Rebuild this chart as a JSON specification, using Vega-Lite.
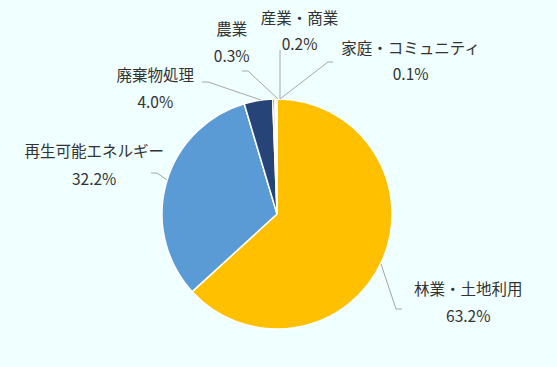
{
  "$schema": "https://vega.github.io/schema/vega-lite/v6.json",
  "width": 554,
  "height": 306,
  "autosize": {"type": "none"},
  "padding": {"left": 0, "top": 61, "right": 3, "bottom": 0},
  "background": "#F0FFFF",
  "config": {
    "view": {"stroke": null},
    "text": {"font": "Noto Sans CJK JP", "fontSize": 15.5, "color": "#333333"}
  },
  "datasets": {
    "shares": [
      {"category": "林業・土地利用", "share": 63.2, "order": 1},
      {"category": "再生可能エネルギー", "share": 32.2, "order": 2},
      {"category": "廃棄物処理", "share": 4.0, "order": 3},
      {"category": "農業", "share": 0.3, "order": 4},
      {"category": "産業・商業", "share": 0.2, "order": 5},
      {"category": "家庭・コミュニティ", "share": 0.1, "order": 6}
    ],
    "leaders": [
      {"category": "林業・土地利用", "seq": 0, "lx": 0.9043, "ly": -0.4348},
      {"category": "林業・土地利用", "seq": 1, "lx": 1.0348, "ly": -0.8261},
      {"category": "林業・土地利用", "seq": 2, "lx": 1.0870, "ly": -0.8261},
      {"category": "再生可能エネルギー", "seq": 0, "lx": -0.9565, "ly": 0.2957},
      {"category": "再生可能エネルギー", "seq": 1, "lx": -1.0435, "ly": 0.3565},
      {"category": "再生可能エネルギー", "seq": 2, "lx": -1.0957, "ly": 0.3565},
      {"category": "廃棄物処理", "seq": 0, "lx": -0.1391, "ly": 0.9913},
      {"category": "廃棄物処理", "seq": 1, "lx": -0.6, "ly": 1.1478},
      {"category": "廃棄物処理", "seq": 2, "lx": -0.6522, "ly": 1.1478},
      {"category": "農業", "seq": 0, "lx": 0.0087, "ly": 1.0},
      {"category": "農業", "seq": 1, "lx": -0.2522, "ly": 1.2435},
      {"category": "農業", "seq": 2, "lx": -0.3043, "ly": 1.2435},
      {"category": "産業・商業", "seq": 0, "lx": 0.0261, "ly": 1.0},
      {"category": "産業・商業", "seq": 1, "lx": 0.0261, "ly": 1.4261},
      {"category": "家庭・コミュニティ", "seq": 0, "lx": 0.0261, "ly": 1.0},
      {"category": "家庭・コミュニティ", "seq": 1, "lx": 0.4435, "ly": 1.3217},
      {"category": "家庭・コミュニティ", "seq": 2, "lx": 0.4870, "ly": 1.3217}
    ]
  },
  "layer": [
    {
      "data": {"name": "shares"},
      "mark": {"type": "arc", "outerRadius": 115, "stroke": "white", "strokeWidth": 1.5},
      "encoding": {
        "theta": {"field": "share", "type": "quantitative", "stack": true},
        "order": {"field": "order", "type": "quantitative"},
        "color": {
          "field": "category",
          "type": "nominal",
          "scale": {
            "domain": ["林業・土地利用", "再生可能エネルギー", "廃棄物処理", "農業", "産業・商業", "家庭・コミュニティ"],
            "range": ["#FFC000", "#5B9BD5", "#264478", "#9E480E", "#636363", "#997300"]
          },
          "legend": null
        }
      }
    },
    {
      "data": {"name": "leaders"},
      "mark": {"type": "line", "color": "#A6A6A6", "strokeWidth": 1},
      "encoding": {
        "x": {"field": "lx", "type": "quantitative", "scale": {"domain": [-2.4087, 2.4087], "nice": false, "zero": false}, "axis": null},
        "y": {"field": "ly", "type": "quantitative", "scale": {"domain": [-1.3304, 1.3304], "nice": false, "zero": false}, "axis": null},
        "detail": {"field": "category", "type": "nominal"},
        "order": {"field": "seq", "type": "quantitative"}
      }
    },
    {
      "data": {"name": "shares"},
      "transform": [{"calculate": "datum.category + '\\n' + format(datum.share, '.1f') + '%'", "as": "lbl"}],
      "mark": {"type": "text", "radius": 115, "dx": 86, "dy": 30, "align": "center", "baseline": "middle", "lineBreak": "\n", "lineHeight": 27},
      "encoding": {
        "theta": {"field": "share", "type": "quantitative", "stack": true},
        "order": {"field": "order", "type": "quantitative"},
        "text": {"condition": {"test": "datum.category === '林業・土地利用'", "field": "lbl", "type": "nominal"}, "value": ""}
      }
    },
    {
      "data": {"name": "shares"},
      "transform": [{"calculate": "datum.category + '\\n' + format(datum.share, '.1f') + '%'", "as": "lbl"}],
      "mark": {"type": "text", "radius": 115, "dx": -72, "dy": -31, "align": "center", "baseline": "middle", "lineBreak": "\n", "lineHeight": 28},
      "encoding": {
        "theta": {"field": "share", "type": "quantitative", "stack": true},
        "order": {"field": "order", "type": "quantitative"},
        "text": {"condition": {"test": "datum.category === '再生可能エネルギー'", "field": "lbl", "type": "nominal"}, "value": ""}
      }
    },
    {
      "data": {"name": "shares"},
      "transform": [{"calculate": "datum.category + '\\n' + format(datum.share, '.1f') + '%'", "as": "lbl"}],
      "mark": {"type": "text", "radius": 115, "dx": -103, "dy": -25, "align": "center", "baseline": "middle", "lineBreak": "\n", "lineHeight": 27},
      "encoding": {
        "theta": {"field": "share", "type": "quantitative", "stack": true},
        "order": {"field": "order", "type": "quantitative"},
        "text": {"condition": {"test": "datum.category === '廃棄物処理'", "field": "lbl", "type": "nominal"}, "value": ""}
      }
    },
    {
      "data": {"name": "shares"},
      "transform": [{"calculate": "datum.category + '\\n' + format(datum.share, '.1f') + '%'", "as": "lbl"}],
      "mark": {"type": "text", "radius": 115, "dx": -42, "dy": -69, "align": "center", "baseline": "middle", "lineBreak": "\n", "lineHeight": 27},
      "encoding": {
        "theta": {"field": "share", "type": "quantitative", "stack": true},
        "order": {"field": "order", "type": "quantitative"},
        "text": {"condition": {"test": "datum.category === '農業'", "field": "lbl", "type": "nominal"}, "value": ""}
      }
    },
    {
      "data": {"name": "shares"},
      "transform": [{"calculate": "datum.category + '\\n' + format(datum.share, '.1f') + '%'", "as": "lbl"}],
      "mark": {"type": "text", "radius": 115, "dx": 24, "dy": -80, "align": "center", "baseline": "middle", "lineBreak": "\n", "lineHeight": 26},
      "encoding": {
        "theta": {"field": "share", "type": "quantitative", "stack": true},
        "order": {"field": "order", "type": "quantitative"},
        "text": {"condition": {"test": "datum.category === '産業・商業'", "field": "lbl", "type": "nominal"}, "value": ""}
      }
    },
    {
      "data": {"name": "shares"},
      "transform": [{"calculate": "datum.category + '\\n' + format(datum.share, '.1f') + '%'", "as": "lbl"}],
      "mark": {"type": "text", "radius": 115, "dx": 134, "dy": -50, "align": "center", "baseline": "middle", "lineBreak": "\n", "lineHeight": 26},
      "encoding": {
        "theta": {"field": "share", "type": "quantitative", "stack": true},
        "order": {"field": "order", "type": "quantitative"},
        "text": {"condition": {"test": "datum.category === '家庭・コミュニティ'", "field": "lbl", "type": "nominal"}, "value": ""}
      }
    }
  ]
}
